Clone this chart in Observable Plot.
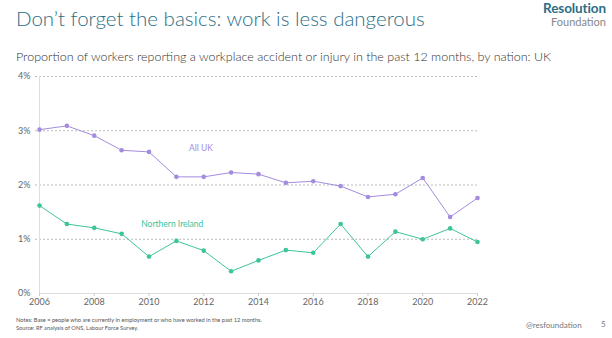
<!DOCTYPE html>
<html><head><meta charset="utf-8">
<script src="https://cdn.jsdelivr.net/npm/d3@7"></script>
<script src="https://cdn.jsdelivr.net/npm/@observablehq/plot@0.6"></script>
<style>
body{margin:0;background:#fff;font-family:Lato,"Open Sans",sans-serif;}
#wrap{position:relative;width:612px;height:338px;overflow:hidden;}
.abs{position:absolute;white-space:nowrap;}
#title{left:16px;top:6px;font-size:20.5px;font-weight:300;color:#2b6e86;}
#logo1{right:6px;top:0px;font-size:13.5px;font-weight:700;color:#2b6e86;letter-spacing:-0.1px;line-height:16px;}
#logo2{right:6px;top:15px;font-size:11px;font-weight:400;color:#888;line-height:13px;}
#sub{left:16px;top:49px;font-size:12.5px;font-weight:300;color:#333;}
#notes{left:16px;top:316px;font-size:5.7px;line-height:7.5px;color:#555;}
#handle{left:526px;top:320px;font-size:8px;color:#777;}
#page{left:601px;top:319px;font-size:8px;color:#777;}
#chart{left:0;top:66px;}
</style></head>
<body><div id="wrap">
<div class="abs" id="title">Don’t forget the basics: work is less dangerous</div>
<div class="abs" id="logo1">Resolution</div>
<div class="abs" id="logo2">Foundation</div>
<div class="abs" id="sub">Proportion of workers reporting a workplace accident or injury in the past 12 months, by nation: UK</div>
<div class="abs" id="chart"></div>
<div class="abs" id="notes">Notes: Base = people who are currently in employment or who have worked in the past 12 months.<br>Source: RF analysis of ONS, Labour Force Survey.</div>
<div class="abs" id="handle">@resfoundation</div>
<div class="abs" id="page">5</div>
</div>
<script>
const years = [2006,2007,2008,2009,2010,2011,2012,2013,2014,2015,2016,2017,2018,2019,2020,2021,2022];
const allUK = [3.02,3.09,2.91,2.64,2.61,2.15,2.15,2.23,2.20,2.04,2.07,1.98,1.78,1.83,2.13,1.41,1.76];
const northernIreland = [1.62,1.28,1.21,1.10,0.68,0.97,0.79,0.41,0.61,0.80,0.75,1.28,0.68,1.14,1.00,1.20,0.95];
const yTicks = [0,1,2,3,4];
const xTicks = [2006,2008,2010,2012,2014,2016,2018,2020,2022];
const seriesLabels = [
  {name:"All UK", x:2011.9, y:2.67},
  {name:"Northern Ireland", x:2010.85, y:1.28}
];
const colors = {"All UK":"#a38ce0","Northern Ireland":"#3dc49b"};

const uk = years.map((x,i)=>({x, y:allUK[i]}));
const ni = years.map((x,i)=>({x, y:northernIreland[i]}));

const chart = Plot.plot({
  width:612, height:245,
  marginLeft:39, marginRight:135, marginTop:10, marginBottom:18,
  style:{fontFamily:"Lato, 'Open Sans', sans-serif", fontSize:"9px", color:"#666", background:"transparent"},
  x:{domain:[2006,2022], ticks:xTicks, tickFormat:d=>String(d), tickSize:3, tickPadding:2, label:null},
  y:{domain:[0,4], ticks:yTicks, tickFormat:d=>d+"%", tickSize:0, tickPadding:9, label:null},
  marks:[
    Plot.ruleY(yTicks.filter(d=>d>0), {stroke:"#aaa", strokeDasharray:"2,2", strokeWidth:0.8, insetLeft:-4}),
    Plot.ruleX([2006], {stroke:"#ddd", strokeWidth:1}),
    Plot.ruleY([0], {stroke:"#ddd", strokeWidth:1}),
    Plot.axisX({ticks:xTicks, tickFormat:d=>String(d), tickSize:3, tickPadding:2, stroke:"#ccc", fill:"#666"}),
    Plot.axisY({ticks:yTicks, tickFormat:d=>d+"%", tickSize:0, tickPadding:9, fill:"#666"}),
    Plot.line(uk, {x:"x", y:"y", stroke:colors["All UK"], strokeWidth:1}),
    Plot.dot(uk, {x:"x", y:"y", fill:colors["All UK"], r:2.3}),
    Plot.line(ni, {x:"x", y:"y", stroke:colors["Northern Ireland"], strokeWidth:1}),
    Plot.dot(ni, {x:"x", y:"y", fill:colors["Northern Ireland"], r:2.3}),
    Plot.text(seriesLabels, {x:"x", y:"y", text:"name", fill:d=>colors[d.name], fontSize:8.5})
  ]
});
document.getElementById("chart").appendChild(chart);
</script>
</body></html>
